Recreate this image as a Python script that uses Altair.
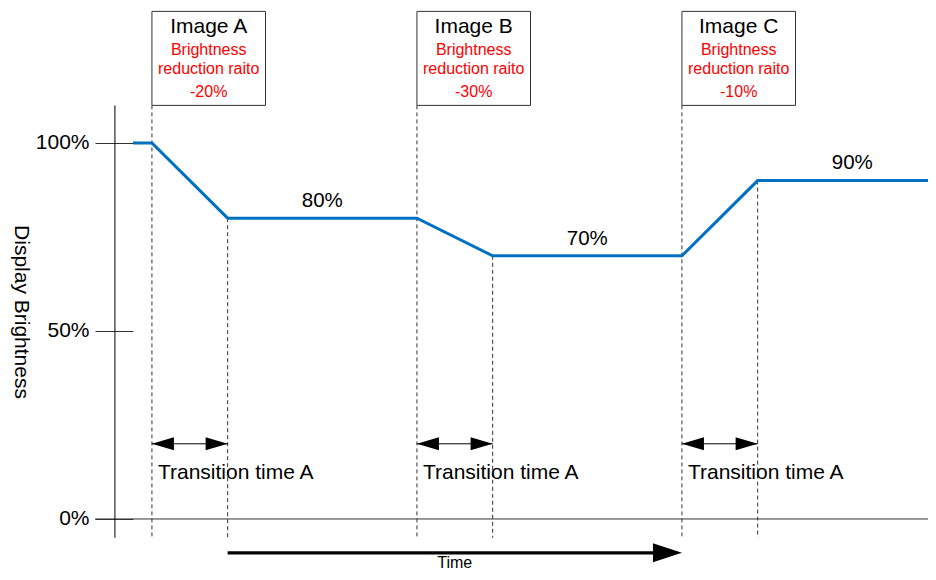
import altair as alt
import pandas as pd

FONT = "Liberation Sans"

# ---- data ----
line_t = [-1, 0, 4, 14, 18, 28, 32, 41]
line_v = [100, 100, 80, 80, 70, 70, 90, 90]

images = ["Image A", "Image B", "Image C"]
ratios = ["-20%", "-30%", "-10%"]
change_t = [0, 14, 28]
transition_end_t = [4, 18, 32]
levels = [80, 70, 90]
level_labels = ["80%", "70%", "90%"]
level_label_t = [9, 23, 37]
y_ticks = [0, 50, 100]

box_right_t = [6, 20, 34]
box_bottom_v = 110
box_top_v = 135
dash_bottom_v = -5
arrow_v = 20
time_arrow_v = -9.0
time_arrow_start_t = 4
time_arrow_end_t = 28
axis_line_t = -1.955
zero_line_start_t = -3
zero_line_end_t = 41

x_scale = alt.Scale(domain=[-1, 41], nice=False, zero=False)
y_scale = alt.Scale(domain=[-14.1, 135.9], nice=False, zero=False)

y_axis = alt.Axis(
    values=y_ticks, labelExpr="datum.value + '%'", tickSize=38, tickColor="#333333",
    labelPadding=6, labelFontSize=21, labelFont=FONT, labelColor="black",
    domain=False, grid=False, title="Display Brightness", titleAngle=90,
    titleX=-113, titleY=303.5, titleAlign="center", titleBaseline="middle",
    titleFontSize=21, titleFontWeight="normal", titleFont=FONT, titleColor="black",
)


def X(f="t"):
    return alt.X(f"{f}:Q", scale=x_scale, axis=None)


def Y(f="v"):
    return alt.Y(f"{f}:Q", scale=y_scale, axis=y_axis)


# ---- frames ----
line_df = pd.DataFrame({"t": line_t, "v": line_v})
box_df = pd.DataFrame({"t": change_t, "t2": box_right_t, "v": [box_bottom_v] * 3, "v2": [box_top_v] * 3})
left_dash_df = pd.DataFrame({"t": change_t, "v": [box_bottom_v] * 3, "v2": [dash_bottom_v] * 3})
right_dash_df = pd.DataFrame({"t": transition_end_t, "v": levels, "v2": [dash_bottom_v] * 3})
arrow_df = pd.DataFrame({"t": change_t, "t2": transition_end_t, "v": [arrow_v] * 3})
level_df = pd.DataFrame({"t": level_label_t, "v": [l + 3 for l in levels], "label": level_labels})
mid_t = [(a + b) / 2 for a, b in zip(change_t, box_right_t)]
img_df = pd.DataFrame({"t": mid_t, "v": [129.3] * 3, "label": images})
red_rows = []
for m, r in zip(mid_t, ratios):
    red_rows.append({"t": m, "v": 123.4, "label": "Brightness"})
    red_rows.append({"t": m, "v": 118.4, "label": "reduction raito"})
    red_rows.append({"t": m, "v": 112.2, "label": r})
red_df = pd.DataFrame(red_rows)
trans_df = pd.DataFrame({"t": change_t, "v": [10.6] * 3, "label": ["Transition time A"] * 3})
axis_line_df = pd.DataFrame({"t": [axis_line_t], "v": [box_bottom_v], "v2": [dash_bottom_v]})
zero_df = pd.DataFrame({"t": [zero_line_start_t], "t2": [zero_line_end_t], "v": [0]})
time_df = pd.DataFrame({"t": [time_arrow_start_t], "t2": [time_arrow_end_t - 1], "v": [time_arrow_v]})
time_head_df = pd.DataFrame({"t": [time_arrow_end_t], "v": [time_arrow_v]})
time_label_df = pd.DataFrame({"t": [16], "v": [-13.75], "label": ["Time"]})

# ---- layers ----
zero_line = alt.Chart(zero_df).mark_rule(color="#333333", strokeWidth=1).encode(x=X(), x2="t2:Q", y=Y())
axis_line = alt.Chart(axis_line_df).mark_rule(color="black", strokeWidth=1).encode(x=X(), y=Y(), y2="v2:Q")
left_dash = alt.Chart(left_dash_df).mark_rule(color="#333333", strokeWidth=1, strokeDash=[4, 3]).encode(
    x=X(), y=Y(), y2="v2:Q")
right_dash = alt.Chart(right_dash_df).mark_rule(color="#333333", strokeWidth=1, strokeDash=[4, 3]).encode(
    x=X(), y=Y(), y2="v2:Q")
boxes = alt.Chart(box_df).mark_rect(fill="white", stroke="#333333", strokeWidth=1).encode(
    x=X(), x2="t2:Q", y=Y(), y2="v2:Q")
img_text = alt.Chart(img_df).mark_text(font=FONT, fontSize=21, color="black", align="center",
                                       baseline="alphabetic").encode(x=X(), y=Y(), text="label:N")
red_text = alt.Chart(red_df).mark_text(font=FONT, fontSize=16, color="#FF0000", align="center",
                                       baseline="alphabetic").encode(x=X(), y=Y(), text="label:N")
line = alt.Chart(line_df).mark_line(color="#0070C0", strokeWidth=3).encode(x=X(), y=Y())
level_text = alt.Chart(level_df).mark_text(font=FONT, fontSize=20.5, color="black", align="center",
                                           baseline="alphabetic").encode(x=X(), y=Y(), text="label:N")
arrow_line = alt.Chart(arrow_df).mark_rule(color="black", strokeWidth=1).encode(x=X(), x2="t2:Q", y=Y())
left_head = alt.Chart(arrow_df).mark_point(shape="M 0 0 L 2 -0.59 L 2 0.59 Z", size=484, filled=True,
                                           color="black", opacity=1, strokeWidth=0).encode(x=X(), y=Y())
right_head = alt.Chart(arrow_df).mark_point(shape="M 0 0 L -2 -0.59 L -2 0.59 Z", size=484, filled=True,
                                            color="black", opacity=1, strokeWidth=0).encode(x=X("t2"), y=Y())
trans_text = alt.Chart(trans_df).mark_text(font=FONT, fontSize=21, color="black", align="left", dx=6,
                                           baseline="alphabetic").encode(x=X(), y=Y(), text="label:N")
time_line = alt.Chart(time_df).mark_rule(color="black", strokeWidth=3.2).encode(x=X(), x2="t2:Q", y=Y())
time_head = alt.Chart(time_head_df).mark_point(shape="M 0 0 L -2 -0.655 L -2 0.655 Z", size=841, filled=True,
                                               color="black", opacity=1, strokeWidth=0).encode(x=X(), y=Y())
time_text = alt.Chart(time_label_df).mark_text(font=FONT, fontSize=16, color="black", align="center",
                                               baseline="bottom").encode(x=X(), y=Y(), text="label:N")

chart = alt.layer(
    zero_line, axis_line, left_dash, right_dash, boxes, img_text, red_text, line, level_text,
    arrow_line, left_head, right_head, trans_text, time_line, time_head, time_text,
).properties(
    width=795, height=564, autosize="none",
    padding={"left": 125, "top": 0, "right": 0, "bottom": 0},
    background="white",
).configure_view(stroke=None)

chart.save("out.html", embed_options={"renderer": "svg", "actions": False})
